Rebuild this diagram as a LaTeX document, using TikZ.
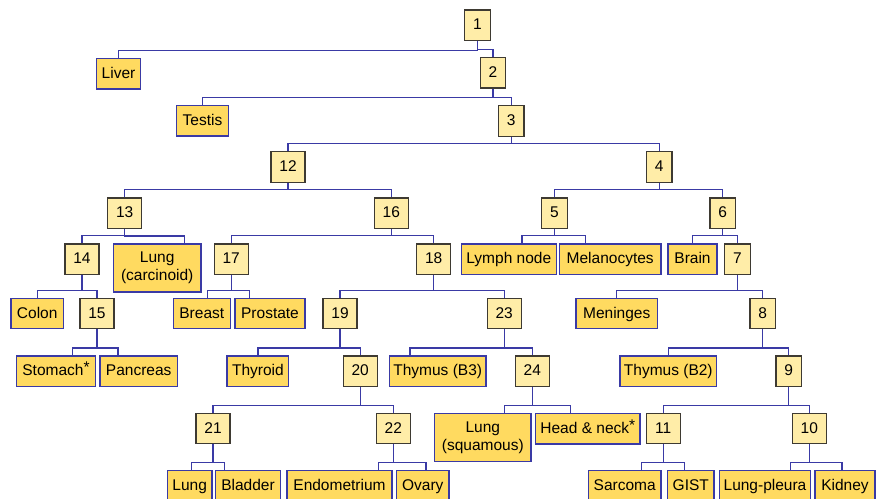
\documentclass[tikz,border=0pt]{standalone}
\usepackage{fontspec}
\setmainfont{Liberation Sans}
\usepackage{xcolor}
\usepackage{tikz}
\definecolor{numfill}{RGB}{255,237,168}
\definecolor{leaffill}{RGB}{255,218,96}
\definecolor{numline}{RGB}{62,58,50}
\definecolor{linkblue}{RGB}{58,58,165}

\begin{document}
\begin{tikzpicture}[x=1pt,y=-1pt,
    boxbase/.style={line width=1.2pt,inner sep=0pt,minimum height=30.5pt,
      font=\fontsize{15.5}{18}\selectfont},
    numbox/.style={boxbase,draw=numline,fill=numfill,minimum width=#1,
      text height=11.2pt,text depth=2pt},
    numbox/.default=25.5pt,
    leafbox/.style={boxbase,draw=linkblue,fill=leaffill,minimum width=#1,
      text height=11.2pt,text depth=2pt},
    leafpair/.style={boxbase,draw=linkblue,fill=leaffill,minimum width=#1,
      minimum height=48pt,align=center},
    link/.style={draw=linkblue,line width=1.2pt}]
  \clip (0,0) rectangle (878,498);
      % numbered splits
      \node[numbox] (n1) at (477.5,25.3) {1};
      \node[numbox] (n2) at (493,72.8) {2};
      \node[numbox] (n3) at (511.3,121) {3};
      \node[numbox=34pt] (n12) at (288,167) {12};
      \node[numbox] (n4) at (659.3,167) {4};
      \node[numbox=34pt] (n13) at (124.7,213.2) {13};
      \node[numbox=34pt] (n16) at (391.3,213.2) {16};
      \node[numbox] (n5) at (554.5,213.2) {5};
      \node[numbox] (n6) at (722.8,213.2) {6};
      \node[numbox=34pt] (n14) at (82,259.2) {14};
      \node[numbox=34pt] (n17) at (231.2,259.2) {17};
      \node[numbox=34pt] (n18) at (433.7,259.2) {18};
      \node[numbox] (n7) at (737.5,259.2) {7};
      \node[numbox=34pt] (n15) at (97,313.5) {15};
      \node[numbox=34pt] (n19) at (340,313.5) {19};
      \node[numbox=34pt] (n23) at (504.2,313.5) {23};
      \node[numbox] (n8) at (762.7,313.5) {8};
      \node[numbox=34pt] (n20) at (360.2,371.3) {20};
      \node[numbox=34pt] (n24) at (532.3,371.3) {24};
      \node[numbox] (n9) at (788.7,371.3) {9};
      \node[numbox=34pt] (n21) at (213,428.5) {21};
      \node[numbox=34pt] (n22) at (393.3,428.5) {22};
      \node[numbox=34pt] (n11) at (663.2,428.5) {11};
      \node[numbox=34pt] (n10) at (809.3,428.5) {10};
      % tissue leaves
      \node[leafbox=43.6pt] (liver) at (118.5,73.8) {Liver};
      \node[leafbox=51.6pt] (testis) at (202.5,120.8) {Testis};
      \node[leafpair=87.7pt] (lungc) at (157.2,268) {Lung\\(carcinoid)};
      \node[leafbox=95pt] (lymph) at (508.8,259.2) {Lymph node};
      \node[leafbox=101.7pt] (melano) at (610.2,259.2) {Melanocytes};
      \node[leafbox=49pt] (brain) at (692.5,259.2) {Brain};
      \node[leafbox=52.3pt] (colon) at (37.2,313.5) {Colon};
      \node[leafbox=57pt] (breast) at (201.8,313.5) {Breast};
      \node[leafbox=70pt] (prostate) at (270,313.5) {Prostate};
      \node[leafbox=81.3pt] (meninges) at (616.7,313.5) {Meninges};
      \node[leafbox=78.6pt] (stomach) at (56,371.3) {Stomach\raisebox{3pt}{*}};
      \node[leafbox=77.3pt] (pancreas) at (138.7,371.3) {Pancreas};
      \node[leafbox=61.7pt] (thyroid) at (257.9,371.3) {Thyroid};
      \node[leafbox=96.7pt] (thymusb3) at (437.7,371.3) {Thymus (B3)};
      \node[leafbox=96.7pt] (thymusb2) at (668.3,371.3) {Thymus (B2)};
      \node[leafpair=96.3pt] (lungs) at (482.8,437.3) {Lung\\(squamous)};
      \node[leafbox=104.3pt] (headneck) at (587.8,428.7) {Head \& neck\raisebox{3pt}{*}};
      \node[leafbox=44.7pt] (lungb) at (189.7,485.8) {Lung};
      \node[leafbox=65pt] (bladder) at (248,485.8) {Bladder};
      \node[leafbox=105pt] (endo) at (339.5,485.8) {Endometrium};
      \node[leafbox=52.3pt] (ovary) at (422.8,485.8) {Ovary};
      \node[leafbox=72.7pt] (sarcoma) at (624.7,485.8) {Sarcoma};
      \node[leafbox=46.3pt] (gist) at (690.8,485.8) {GIST};
      \node[leafbox=91.4pt] (pleura) at (765,485.8) {Lung-pleura};
      \node[leafbox=60pt] (kidney) at (845,485.8) {Kidney};
      % elbow connectors
      \draw[link] (n1.south) |- ([yshift=7.5pt]liver.north) -- (liver.north);
      \draw[link] (n1.south) |- ([yshift=7.5pt]n2.north) -- (n2.north);
      \draw[link] (n2.south) |- ([yshift=7.5pt]testis.north) -- (testis.north);
      \draw[link] (n2.south) |- ([yshift=7.5pt]n3.north) -- (n3.north);
      \draw[link] (n3.south) |- ([yshift=7.5pt]n12.north) -- (n12.north);
      \draw[link] (n3.south) |- ([yshift=7.5pt]n4.north) -- (n4.north);
      \draw[link] (n12.south) |- ([yshift=7.5pt]n13.north) -- (n13.north);
      \draw[link] (n12.south) |- ([yshift=7.5pt]n16.north) -- (n16.north);
      \draw[link] (n4.south) |- ([yshift=7.5pt]n5.north) -- (n5.north);
      \draw[link] (n4.south) |- ([yshift=7.5pt]n6.north) -- (n6.north);
      \draw[link] (n13.south) |- ([yshift=7.5pt]n14.north) -- (n14.north);
      \draw[link] (n13.south) |- ([xshift=27pt,yshift=7.5pt]lungc.north) -- ([xshift=27pt]lungc.north);
      \draw[link] (n16.south) |- ([yshift=7.5pt]n17.north) -- (n17.north);
      \draw[link] (n16.south) |- ([yshift=7.5pt]n18.north) -- (n18.north);
      \draw[link] (n5.south) |- ([xshift=13.2pt,yshift=7.5pt]lymph.north) -- ([xshift=13.2pt]lymph.north);
      \draw[link] (n5.south) |- ([xshift=-24.9pt,yshift=7.5pt]melano.north) -- ([xshift=-24.9pt]melano.north);
      \draw[link] (n6.south) |- ([yshift=7.5pt]brain.north) -- (brain.north);
      \draw[link] (n6.south) |- ([yshift=7.5pt]n7.north) -- (n7.north);
      \draw[link] (n14.south) |- ([yshift=7.5pt]colon.north) -- (colon.north);
      \draw[link] (n14.south) |- ([yshift=7.5pt]n15.north) -- (n15.north);
      \draw[link] (n17.south) |- ([xshift=5.5pt,yshift=7.5pt]breast.north) -- ([xshift=5.5pt]breast.north);
      \draw[link] (n17.south) |- ([xshift=-20.3pt,yshift=7.5pt]prostate.north) -- ([xshift=-20.3pt]prostate.north);
      \draw[link] (n18.south) |- ([yshift=7.5pt]n19.north) -- (n19.north);
      \draw[link] (n18.south) |- ([yshift=7.5pt]n23.north) -- (n23.north);
      \draw[link] (n7.south) |- ([yshift=7.5pt]meninges.north) -- (meninges.north);
      \draw[link] (n7.south) |- ([yshift=7.5pt]n8.north) -- (n8.north);
      \draw[link] (n15.south) |- ([xshift=16.7pt,yshift=7.5pt]stomach.north) -- ([xshift=16.7pt]stomach.north);
      \draw[link] (n15.south) |- ([xshift=-20.7pt,yshift=7.5pt]pancreas.north) -- ([xshift=-20.7pt]pancreas.north);
      \draw[link] (n19.south) |- ([yshift=7.5pt]thyroid.north) -- (thyroid.north);
      \draw[link] (n19.south) |- ([yshift=7.5pt]n20.north) -- (n20.north);
      \draw[link] (n23.south) |- ([xshift=-27.7pt,yshift=7.5pt]thymusb3.north) -- ([xshift=-27.7pt]thymusb3.north);
      \draw[link] (n23.south) |- ([yshift=7.5pt]n24.north) -- (n24.north);
      \draw[link] (n8.south) |- ([yshift=7.5pt]thymusb2.north) -- (thymusb2.north);
      \draw[link] (n8.south) |- ([yshift=7.5pt]n9.north) -- (n9.north);
      \draw[link] (n20.south) |- ([yshift=7.5pt]n21.north) -- (n21.north);
      \draw[link] (n20.south) |- ([yshift=7.5pt]n22.north) -- (n22.north);
      \draw[link] (n24.south) |- ([xshift=21.5pt,yshift=7.5pt]lungs.north) -- ([xshift=21.5pt]lungs.north);
      \draw[link] (n24.south) |- ([xshift=-17.1pt,yshift=7.5pt]headneck.north) -- ([xshift=-17.1pt]headneck.north);
      \draw[link] (n9.south) |- ([yshift=7.5pt]n11.north) -- (n11.north);
      \draw[link] (n9.south) |- ([yshift=7.5pt]n10.north) -- (n10.north);
      \draw[link] (n21.south) |- ([xshift=1.6pt,yshift=7.5pt]lungb.north) -- ([xshift=1.6pt]lungb.north);
      \draw[link] (n21.south) |- ([xshift=-23.7pt,yshift=7.5pt]bladder.north) -- ([xshift=-23.7pt]bladder.north);
      \draw[link] (n22.south) |- ([xshift=39.2pt,yshift=7.5pt]endo.north) -- ([xshift=39.2pt]endo.north);
      \draw[link] (n22.south) |- ([xshift=3.2pt,yshift=7.5pt]ovary.north) -- ([xshift=3.2pt]ovary.north);
      \draw[link] (n11.south) |- ([xshift=17pt,yshift=7.5pt]sarcoma.north) -- ([xshift=17pt]sarcoma.north);
      \draw[link] (n11.south) |- ([xshift=-6.5pt,yshift=7.5pt]gist.north) -- ([xshift=-6.5pt]gist.north);
      \draw[link] (n10.south) |- ([xshift=25.7pt,yshift=7.5pt]pleura.north) -- ([xshift=25.7pt]pleura.north);
      \draw[link] (n10.south) |- ([xshift=-3pt,yshift=7.5pt]kidney.north) -- ([xshift=-3pt]kidney.north);
\end{tikzpicture}
\end{document}
